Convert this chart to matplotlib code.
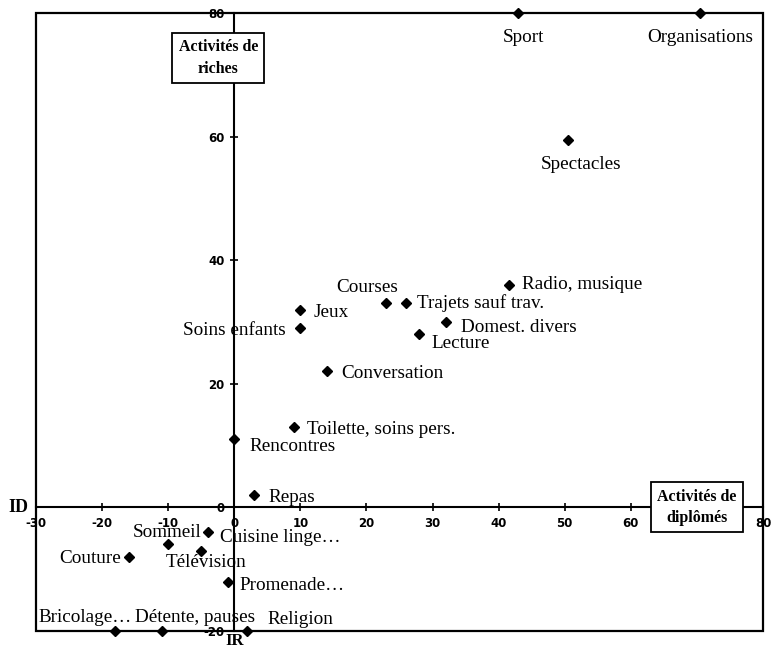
import matplotlib
matplotlib.use("Agg")
import matplotlib.pyplot as plt
from matplotlib.patches import Rectangle

# ---- data ----
activities = ["Sport", "Organisations", "Spectacles", "Radio, musique", "Courses",
              "Trajets sauf trav.", "Domest. divers", "Lecture", "Jeux", "Soins enfants",
              "Conversation", "Toilette, soins pers.", "Rencontres", "Repas", "Sommeil",
              "Cuisine linge…", "Couture", "Télévision", "Promenade…", "Bricolage…",
              "Détente, pauses", "Religion"]
x_vals = [43, 70.5, 50.5, 41.5, 23, 26, 32, 28, 10, 10, 14, 9, 0, 3, -10, -4, -16, -5, -1, -18, -11, 2]
y_vals = [80, 80, 59.5, 36, 33, 33, 30, 28, 32, 29, 22, 13, 11, 2, -6, -4, -8, -7, -12, -20, -20, -20]
x_ticks = [-30, -20, -10, 0, 10, 20, 30, 40, 50, 60, 70, 80]
y_ticks = [-20, 0, 20, 40, 60, 80]

# label placement (offset in pixels, ha)
label_layout = {
    "Sport": (5, -24, "center"),
    "Organisations": (0, -24, "center"),
    "Spectacles": (13, -25, "center"),
    "Radio, musique": (13, 0, "left"),
    "Courses": (-19, 16, "center"),
    "Trajets sauf trav.": (11, 0, "left"),
    "Domest. divers": (15, -6, "left"),
    "Lecture": (12, -9, "left"),
    "Jeux": (13, -3, "left"),
    "Soins enfants": (-15, -2, "right"),
    "Conversation": (14, -2, "left"),
    "Toilette, soins pers.": (13, -2, "left"),
    "Rencontres": (15, -7, "left"),
    "Repas": (14, -2, "left"),
    "Sommeil": (-1, 12, "center"),
    "Cuisine linge…": (12, -5, "left"),
    "Couture": (-8, -2, "right"),
    "Télévision": (5, -12, "center"),
    "Promenade…": (12, -4, "left"),
    "Bricolage…": (-30, 14, "center"),
    "Détente, pauses": (33, 14, "center"),
    "Religion": (20, 12, "left"),
}

fig = plt.figure(figsize=(7.73, 6.49), dpi=100)
ax = fig.add_axes([36 / 773, 1 - 631 / 649, (763 - 36) / 773, (631 - 13) / 649])
ax.set_xlim(-30, 80)
ax.set_ylim(-20, 80)

for s in ["top", "right"]:
    ax.spines[s].set_visible(False)
ax.spines["left"].set_position(("data", 0))
ax.spines["bottom"].set_position(("data", 0))
ax.spines["left"].set_linewidth(1.5)
ax.spines["bottom"].set_linewidth(1.5)
ax.add_patch(Rectangle((0, 0), 1, 1, transform=ax.transAxes, fill=False,
                       lw=1.6, ec="black", clip_on=False, zorder=3))

ax.set_xticks(x_ticks)
ax.set_yticks(y_ticks)
ax.set_xticklabels([str(t) for t in x_ticks])
ax.set_yticklabels([str(t) for t in y_ticks])
ax.tick_params(direction="inout", length=6, width=1.2, labelsize=8.5, pad=4)
for lab in ax.get_xticklabels() + ax.get_yticklabels():
    lab.set_fontfamily("DejaVu Sans")
    lab.set_fontweight("bold")

ax.plot(x_vals, y_vals, linestyle="none", marker="D", ms=5.5, color="black",
        clip_on=False, zorder=4)

for name, xv, yv in zip(activities, x_vals, y_vals):
    dx, dy, ha = label_layout[name]
    ax.annotate(name, (xv, yv), xytext=(dx, dy), textcoords="offset pixels",
                ha=ha, va="center", fontsize=13.8, family="Liberation Serif",
                annotation_clip=False, zorder=5)

box = dict(boxstyle="square,pad=0.4", fc="white", ec="black", lw=1.3)
ax.text(-2.4, 72.7, "Activités de\nriches", ha="center", va="center", fontsize=11.5,
        family="Liberation Serif", fontweight="bold", bbox=box, zorder=6,
        linespacing=1.45)
ax.text(70, 0, "Activités de\ndiplômés", ha="center", va="center", fontsize=11.5,
        family="Liberation Serif", fontweight="bold", bbox=box, zorder=6,
        linespacing=1.45)

ax.annotate("ID", (-30, 0), xytext=(-18, 0), textcoords="offset pixels", ha="center",
            va="center", fontsize=13, family="Liberation Serif", fontweight="bold",
            annotation_clip=False)
ax.annotate("IR", (0, -20), xytext=(0, -10), textcoords="offset pixels", ha="center",
            va="center", fontsize=12, family="Liberation Serif", fontweight="bold",
            annotation_clip=False)

fig.savefig("out.png", dpi=100)
